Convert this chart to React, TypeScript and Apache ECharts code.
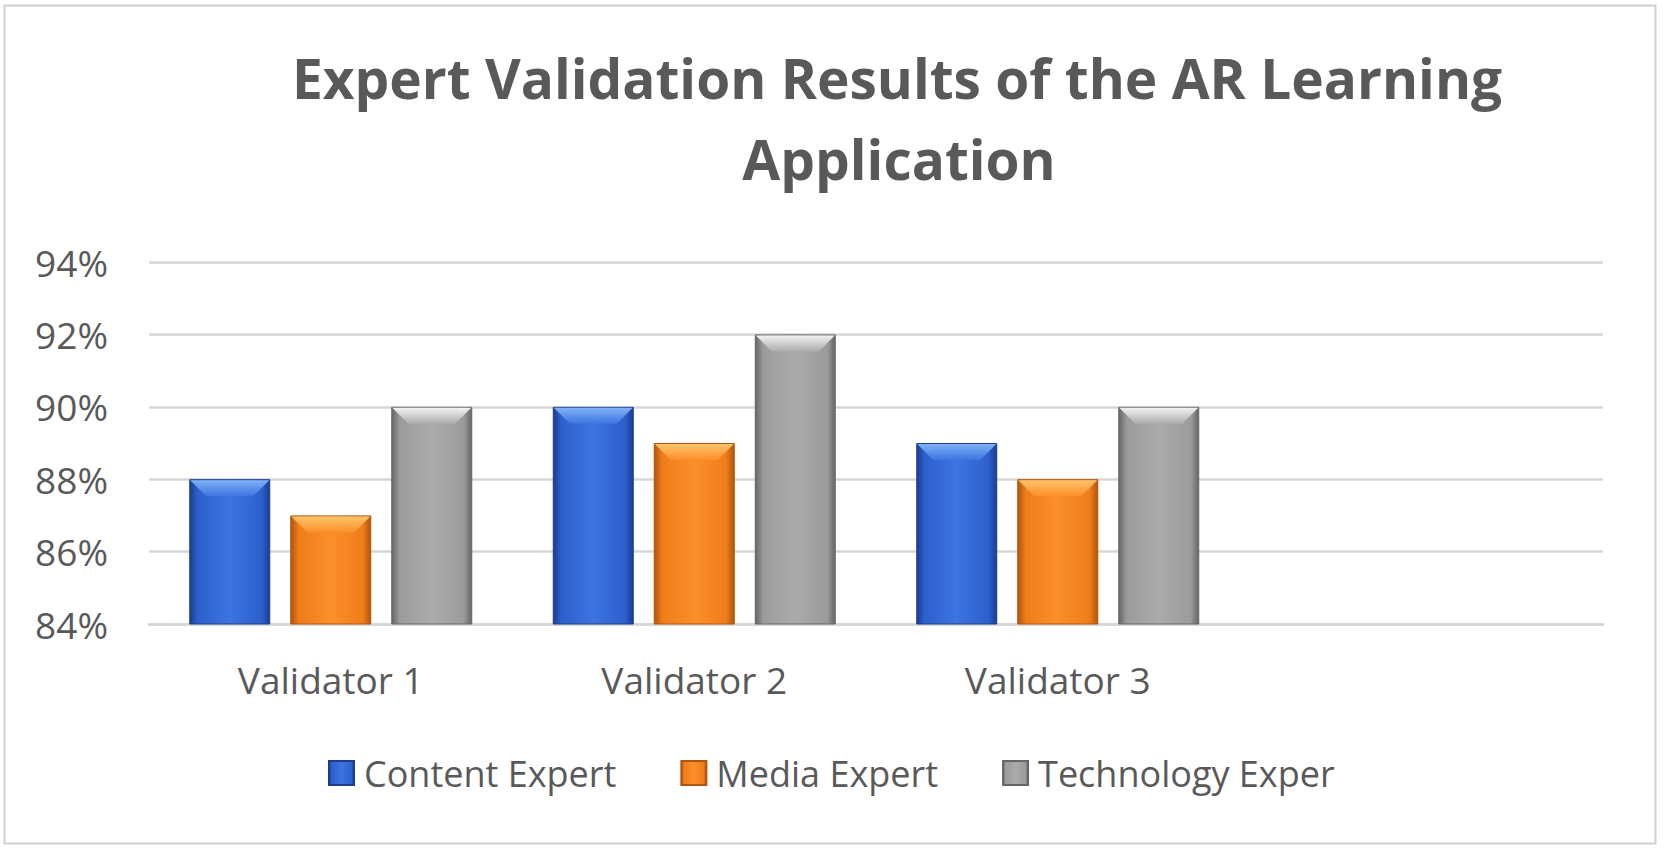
import React, { useEffect, useRef } from "react";
import * as echarts from "echarts";

const categories = ["Validator 1", "Validator 2", "Validator 3", ""];
const contentExpert = [88, 90, 89, null];
const mediaExpert = [87, 89, 88, null];
const technologyExpert = [90, 92, 90, null];
const seriesNames = ["Content Expert", "Media Expert", "Technology Exper"];
const titleLines = ["Expert Validation Results of the AR Learning", "Application"];

const FONT = "'Open Sans', 'Noto Sans', sans-serif";
const TEXT_COLOR = "#595959";
const BAR_WIDTH = 81;
const BAR_GAP_PX = 20;

const palettes = [
  { dark: "#1c3c8e", main: "#2d60cc", light: "#3d74e0", hi: "#7fb2f7" },
  { dark: "#b2540b", main: "#ef7d1a", light: "#fb8f2a", hi: "#ffc46a" },
  { dark: "#666666", main: "#9b9b9b", light: "#ababab", hi: "#f2f2f2" },
];

function barGradient(p: any) {
  return new echarts.graphic.LinearGradient(0, 0, 1, 0, [
    { offset: 0, color: p.dark },
    { offset: 0.1, color: p.main },
    { offset: 0.5, color: p.light },
    { offset: 0.9, color: p.main },
    { offset: 1, color: p.dark },
  ]);
}

export default function App() {
  const ref = useRef<HTMLDivElement>(null);
  useEffect(() => {
    document.body.style.margin = "0";
    const chart = echarts.init(ref.current!, null, { renderer: "svg" });
    const datasets = [contentExpert, mediaExpert, technologyExpert];

    const barSeries = datasets.map((d, i) => ({
      name: seriesNames[i],
      type: "bar",
      data: d,
      barWidth: BAR_WIDTH,
      barGap: (BAR_GAP_PX / BAR_WIDTH) * 100 + "%",
      itemStyle: {
        color: barGradient(palettes[i]),
        borderColor: palettes[i].dark,
        borderWidth: 1,
      },
      z: 2,
    }));

    const bevelSeries = datasets.map((d, i) => ({
      name: "bevel" + i,
      type: "custom",
      z: 3,
      silent: true,
      data: d.map((v, k) => (v == null ? null : [k, v])).filter((x) => x),
      renderItem: (params: any, api: any) => {
        const pt = api.coord([api.value(0), api.value(1)]);
        const offset = (i - 1) * (BAR_WIDTH + BAR_GAP_PX);
        const cx = pt[0] + offset;
        const x0 = cx - BAR_WIDTH / 2 + 1;
        const x1 = cx + BAR_WIDTH / 2 - 1;
        const y = pt[1] + 1;
        const h = 16;
        return {
          type: "polygon",
          shape: {
            points: [
              [x0, y],
              [x1, y],
              [x1 - h, y + h],
              [x0 + h, y + h],
            ],
          },
          style: {
            fill: new echarts.graphic.LinearGradient(0, 0, 0, 1, [
              { offset: 0, color: palettes[i].hi },
              { offset: 1, color: palettes[i].light },
            ]),
          },
        };
      },
    }));

    chart.setOption({
      animation: false,
      backgroundColor: "#ffffff",
      textStyle: { fontFamily: FONT },
      graphic: [
        {
          type: "rect",
          shape: { x: 4.5, y: 5.5, width: 1651, height: 838 },
          style: { fill: "none", stroke: "#cfcfcf", lineWidth: 2 },
          silent: true,
        },
        {
          type: "text",
          x: 897,
          y: 77,
          style: {
            text: titleLines[0],
            font: `bold 55px ${FONT}`,
            fill: TEXT_COLOR,
            textAlign: "center",
            textVerticalAlign: "middle",
          },
        },
        {
          type: "text",
          x: 899,
          y: 158,
          style: {
            text: titleLines[1],
            font: `bold 55px ${FONT}`,
            fill: TEXT_COLOR,
            textAlign: "center",
            textVerticalAlign: "middle",
          },
        },
      ],
      legend: {
        data: seriesNames,
        left: 323,
        top: 750,
        itemWidth: 25,
        itemHeight: 24,
        itemGap: 64,
        icon: "rect",
        textStyle: {
          fontFamily: FONT,
          fontSize: 36,
          color: TEXT_COLOR,
          padding: [0, 0, 0, 5],
        },
      },
      grid: { left: 149, right: 62, top: 262, bottom: 227, containLabel: false },
      xAxis: {
        type: "category",
        data: categories,
        axisLine: { show: true, lineStyle: { color: "#d6d6d6", width: 2.5 } },
        axisTick: { show: false },
        axisLabel: {
          fontFamily: FONT,
          fontSize: 37,
          color: TEXT_COLOR,
          margin: 37,
        },
      },
      yAxis: {
        type: "value",
        min: 84,
        max: 94,
        interval: 2,
        axisLine: { show: false },
        axisTick: { show: false },
        splitLine: { lineStyle: { color: "#d6d6d6", width: 2.5 } },
        axisLabel: {
          fontFamily: FONT,
          fontSize: 37,
          color: TEXT_COLOR,
          margin: 41,
          formatter: (v: number) => v + "%",
        },
      },
      series: [...barSeries, ...bevelSeries],
    });
    return () => chart.dispose();
  }, []);
  return (
    <div
      ref={ref}
      style={{ position: "absolute", left: 0, top: 0, width: 1665, height: 851 }}
    />
  );
}
